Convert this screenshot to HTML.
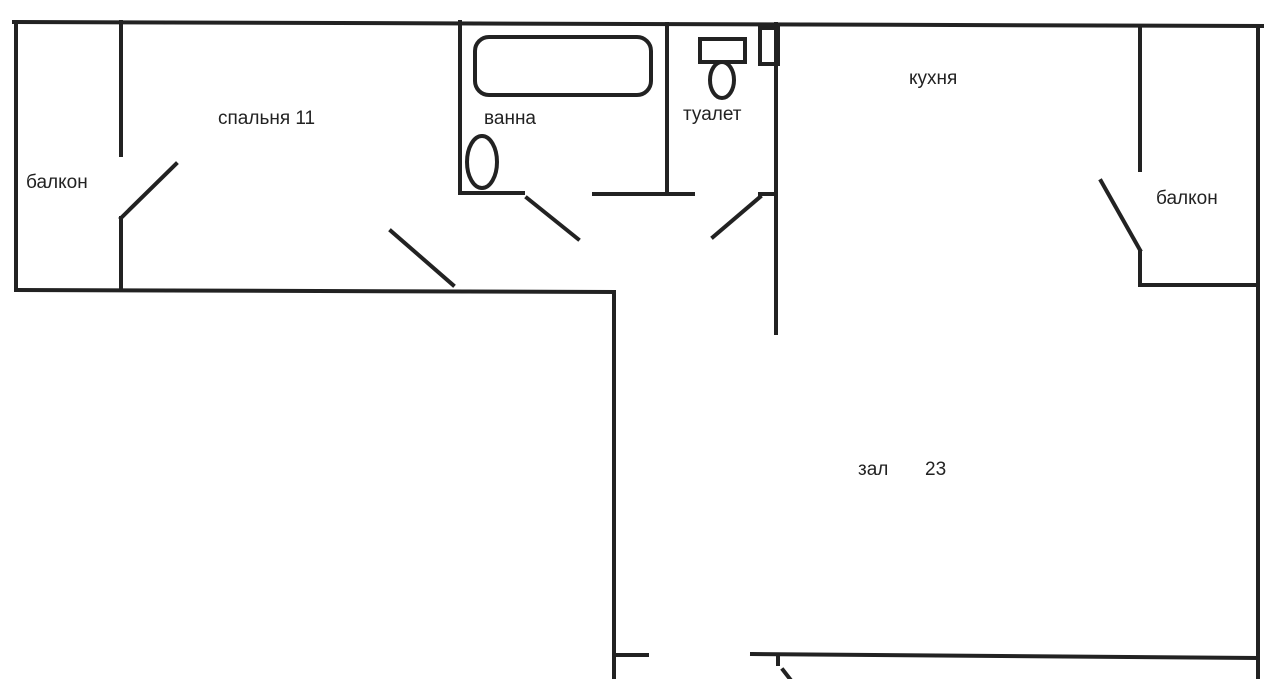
<!DOCTYPE html>
<html><head><meta charset="utf-8"><style>
html,body{margin:0;padding:0;background:#fff;}
svg{display:block}
text{font-family:"Liberation Sans","DejaVu Sans",sans-serif;font-size:19px;fill:#222}
</style></head><body>
<svg width="1280" height="679" viewBox="0 0 1280 679">
<g stroke="#222" stroke-width="4" fill="none" stroke-linecap="square">
<line x1="14" y1="22" x2="1262" y2="26"/>
<line x1="16" y1="22" x2="16" y2="290"/>
<line x1="16" y1="290" x2="614" y2="292"/>
<line x1="614" y1="292" x2="614" y2="679"/>
<line x1="121" y1="22" x2="121" y2="155"/>
<line x1="121" y1="218" x2="121" y2="290"/>
<line x1="121" y1="218" x2="176" y2="164"/>
<line x1="391" y1="231" x2="453" y2="285"/>
<line x1="460" y1="22" x2="460" y2="193"/>
<line x1="460" y1="193" x2="523" y2="193"/>
<line x1="594" y1="194" x2="693" y2="194"/>
<line x1="667" y1="24" x2="667" y2="193"/>
<line x1="527" y1="198" x2="578" y2="239"/>
<line x1="776" y1="24" x2="776" y2="333"/>
<line x1="760" y1="194" x2="776" y2="194"/>
<line x1="713" y1="237" x2="760" y2="197"/>
<line x1="1140" y1="28" x2="1140" y2="170"/>
<line x1="1140" y1="252" x2="1140" y2="285"/>
<line x1="1140" y1="285" x2="1256" y2="285"/>
<line x1="1101" y1="181" x2="1140" y2="250"/>
<line x1="1258" y1="27" x2="1258" y2="679"/>
<line x1="614" y1="655" x2="647" y2="655"/>
<line x1="752" y1="654" x2="1256" y2="658"/>
<line x1="778" y1="657" x2="778" y2="664"/>
<line x1="783" y1="670" x2="790" y2="679"/>
<rect x="475" y="37" width="176" height="58" rx="14"/>
<ellipse cx="482" cy="162" rx="15" ry="26"/>
<rect x="700" y="39" width="45" height="23"/>
<ellipse cx="722" cy="80" rx="12" ry="18"/>
<rect x="760" y="28" width="18" height="36"/>
</g>
<text x="26" y="188">балкон</text>
<text x="218" y="124">спальня 11</text>
<text x="484" y="124">ванна</text>
<text x="683" y="120">туалет</text>
<text x="909" y="84">кухня</text>
<text x="1156" y="204">балкон</text>
<text x="858" y="475">зал</text>
<text x="925" y="475">23</text>
</svg>
</body></html>
